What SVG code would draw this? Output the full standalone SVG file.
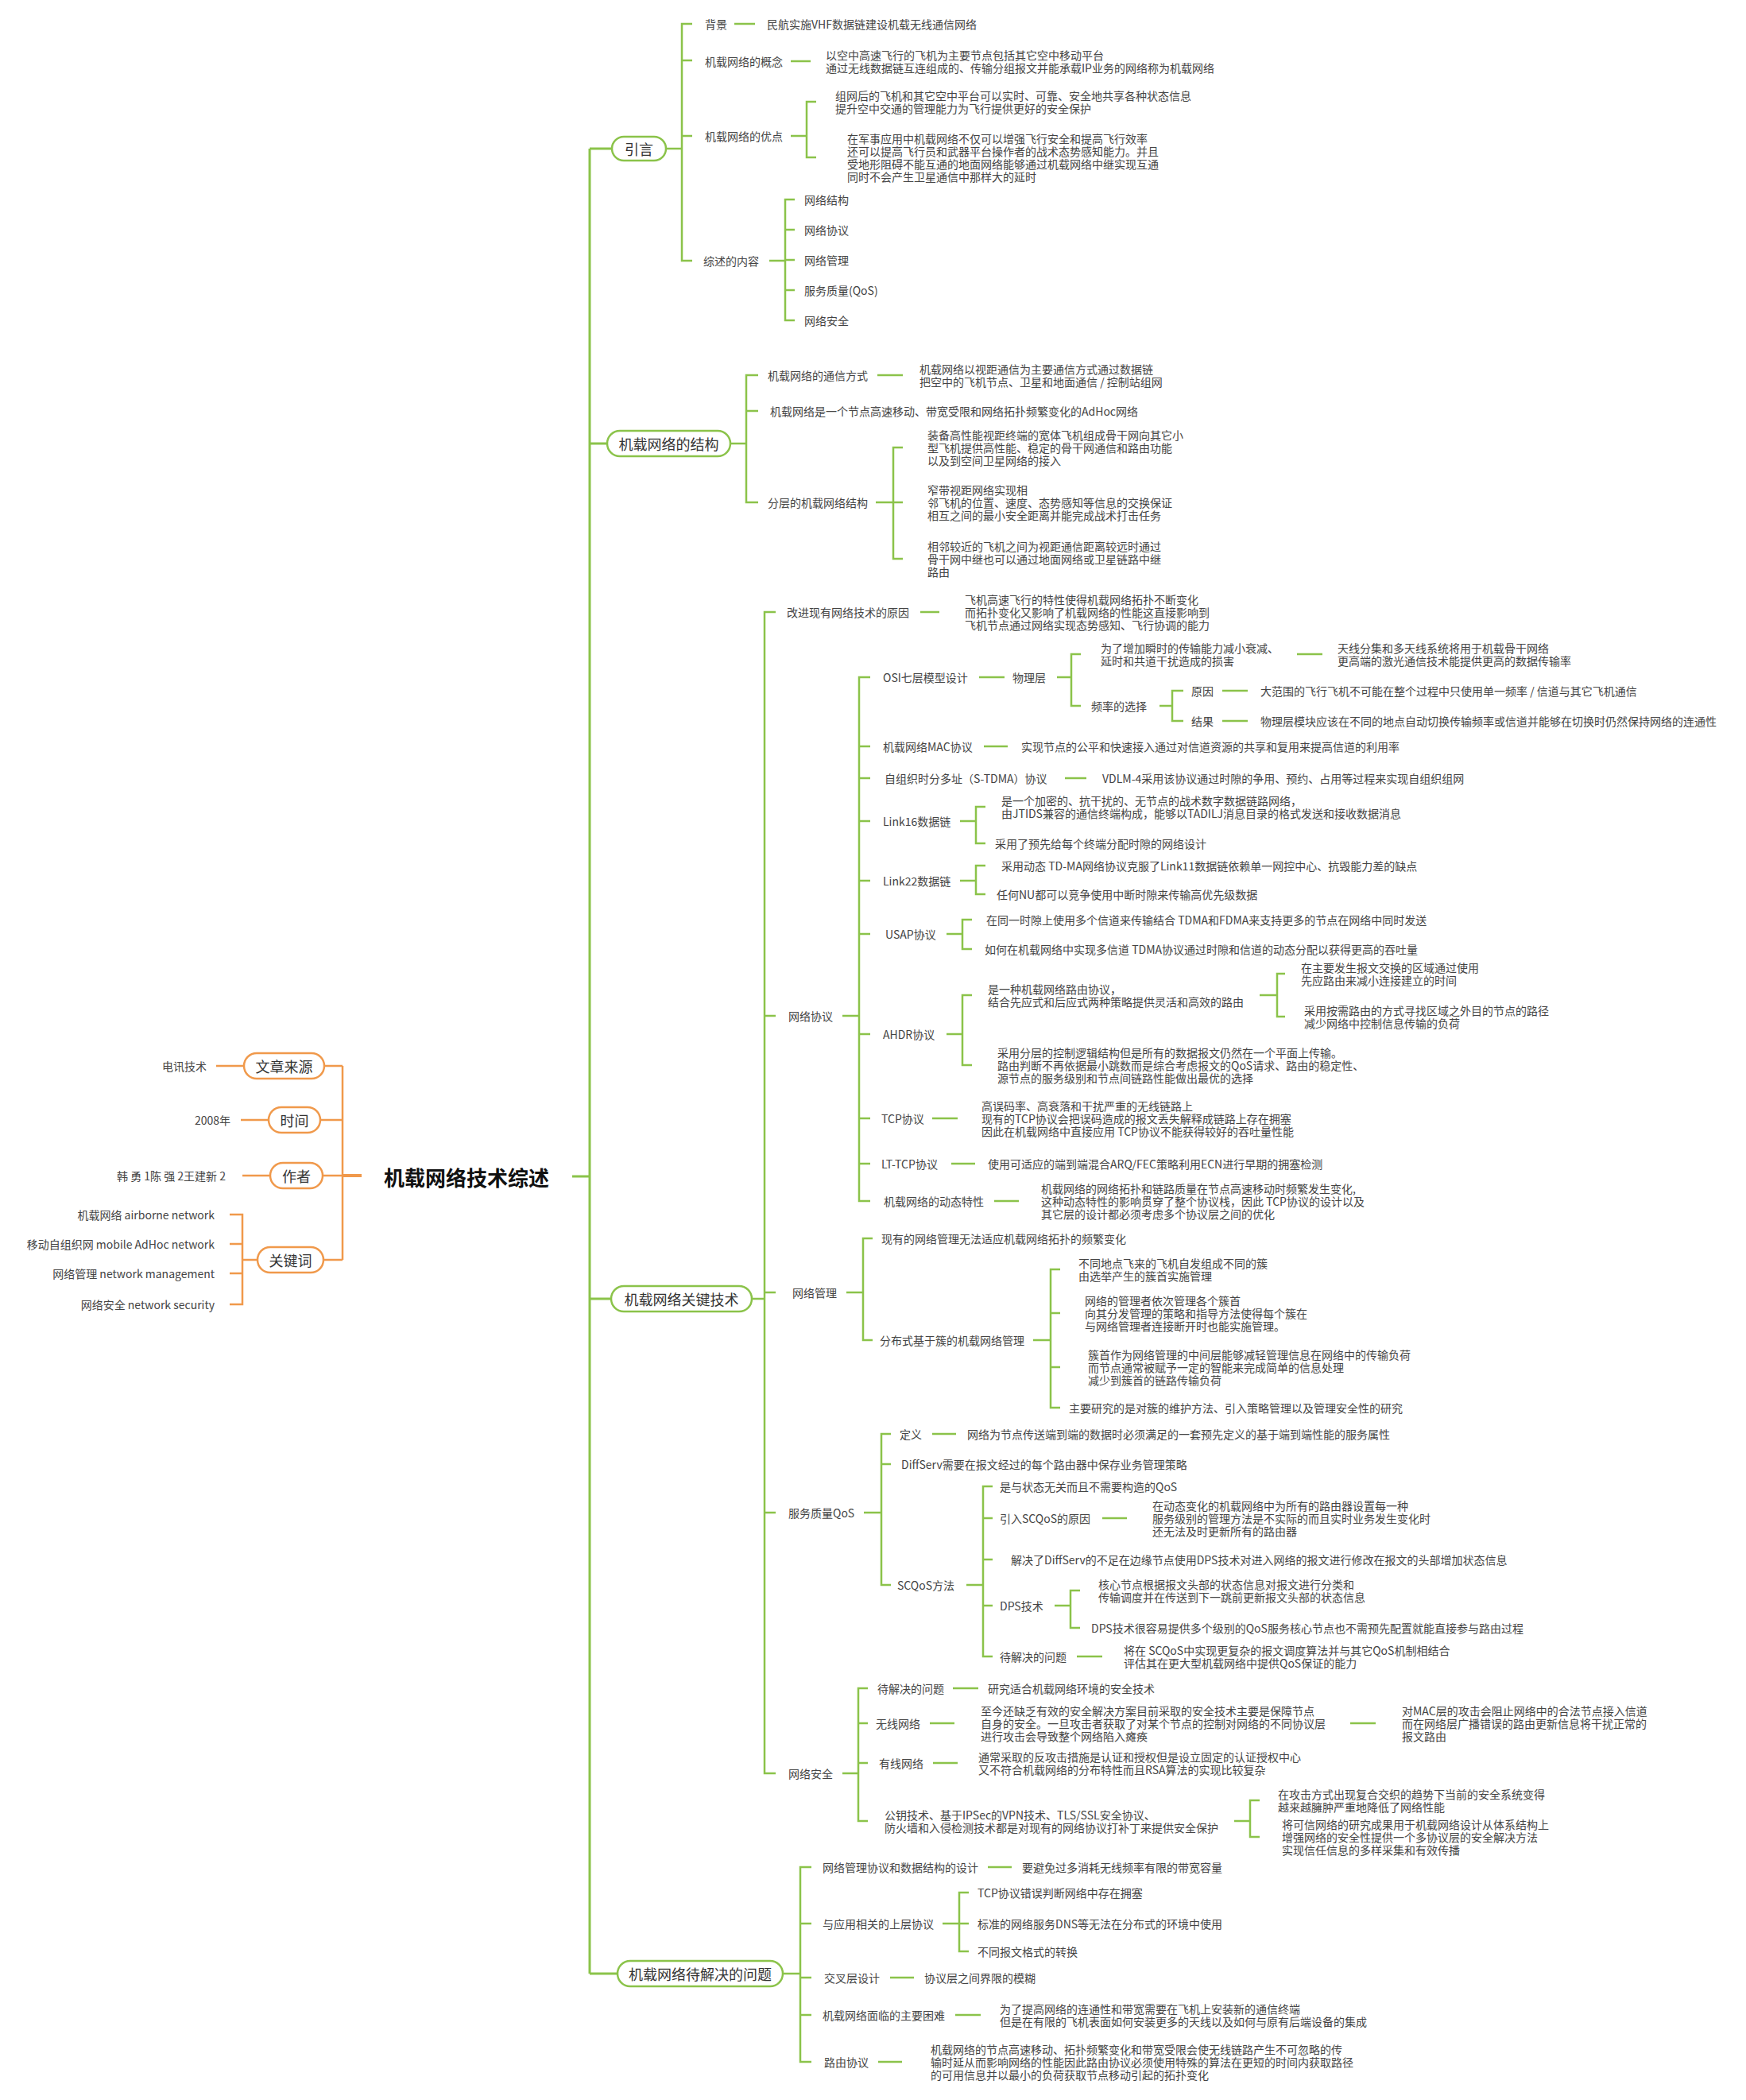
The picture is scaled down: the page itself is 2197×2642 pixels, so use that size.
<svg xmlns="http://www.w3.org/2000/svg" width="2197" height="2642" viewBox="0 0 2197 2642">
<style>
text{font-family:"Noto Sans CJK SC","Noto Sans",sans-serif;fill:#444;font-size:14px;dominant-baseline:central}
.m{font-size:18px;fill:#333;text-anchor:middle}
.r{font-size:26px;font-weight:700;fill:#111}
.l{text-anchor:end}
.g{stroke:#8BC34A;stroke-width:2.5;fill:none}
.gk{stroke:#8BC34A;stroke-width:3;fill:none}
.o{stroke:#F0994B;stroke-width:2.5;fill:none}
.ok{stroke:#F0994B;stroke-width:4;fill:none}
.gb{fill:#fff;stroke:#8BC34A;stroke-width:2.5}
.ob{fill:#fff;stroke:#F0994B;stroke-width:2.5}
</style>
<rect width="2197" height="2642" fill="#fff"/>
<g id="connectors">
<path class="gk" d="M720 1480 H742 M742 187 V2483 M742 187 H770 M742 558 H764 M742 1634 H769 M742 2483 H777"/>
<path class="g" d="M838 187 H858 M871 30 H858 V328 H871 M858 76 H871 M858 171 H871 M924 30 H950 M995 77 H1020 M995 171 H1015 M1027 128 H1015 V198 H1027 M968 328 H988 M1000 251 H988 V403 H1000 M988 289 H1000 M988 327 H1000 M988 365 H1000"/>
<path class="g" d="M919 558 H939 M954 472 H939 V632 H954 M939 517 H954 M1104 472 H1136 M1102 632 H1124 M1136 563 H1124 V703 H1136 M1124 632 H1136"/>
<path class="g" d="M946 1634 H962 M976 770 H962 V2231 H976 M962 1278 H976 M962 1626 H976 M962 1903 H976 M1158 770 H1182"/>
<path class="g" d="M1060 1278 H1081 M1095 852 H1081 V1511 H1095 M1081 939 H1095 M1081 979 H1095 M1081 1033 H1095 M1081 1108 H1095 M1081 1175 H1095 M1081 1301 H1095 M1081 1407 H1095 M1081 1464 H1095"/>
<path class="g" d="M1232 852 H1264 M1330 852 H1348 M1360 823 H1348 V888 H1360 M1632 823 H1664 M1459 888 H1475 M1489 869 H1475 V907 H1489 M1538 869 H1570 M1538 907 H1570"/>
<path class="g" d="M1238 939 H1268 M1340 979 H1367 M1208 1033 H1228 M1240 1015 H1228 V1061 H1240 M1208 1108 H1228 M1240 1089 H1228 V1125 H1240 M1191 1175 H1211 M1223 1157 H1211 V1194 H1223"/>
<path class="g" d="M1191 1301 H1211 M1223 1252 H1211 V1340 H1223 M1585 1252 H1607 M1617 1225 H1607 V1279 H1617 M1173 1407 H1205 M1197 1464 H1227 M1251 1511 H1282"/>
<path class="g" d="M1065 1626 H1086 M1098 1558 H1086 V1686 H1098 M1300 1686 H1322 M1334 1597 H1322 V1771 H1334 M1322 1652 H1334 M1322 1720 H1334"/>
<path class="g" d="M1087 1903 H1109 M1121 1804 H1109 V1994 H1121 M1109 1842 H1121 M1173 1804 H1203 M1216 1994 H1237 M1249 1870 H1237 V2084 H1249 M1237 1910 H1249 M1237 1962 H1249 M1237 2020 H1249 M1387 1910 H1418 M1327 2020 H1347 M1359 2001 H1347 V2048 H1359 M1355 2084 H1387"/>
<path class="g" d="M1060 2231 H1080 M1092 2124 H1080 V2291 H1092 M1080 2168 H1092 M1080 2218 H1092 M1199 2124 H1231 M1170 2168 H1201 M1699 2168 H1731 M1174 2218 H1205 M1553 2291 H1573 M1585 2265 H1573 V2311 H1585"/>
<path class="g" d="M985 2483 H1007 M1021 2349 H1007 V2594 H1021 M1007 2420 H1021 M1007 2488 H1021 M1007 2535 H1021 M1243 2349 H1273 M1186 2420 H1207 M1219 2381 H1207 V2455 H1219 M1207 2420 H1219 M1120 2488 H1150 M1202 2535 H1234 M1105 2594 H1135"/>
<path class="ok" d="M431 1479 H455"/>
<path class="o" d="M431 1341 V1585 M408 1341 H431 M403 1409 H431 M406 1479 H431 M407 1585 H431 M272 1341 H307 M303 1409 H338 M305 1479 H340 M305 1585 H324 M289 1528 H305 V1641 H289 M289 1565 H305 M289 1602 H305"/>
</g>
<g id="root"><text class="r" x="483" y="1480">机载网络技术综述</text></g>
<g id="src"><rect class="ob" x="307" y="1325" width="101" height="32" rx="16"/><text class="m" x="357.5" y="1341">文章来源</text></g>
<g id="src-v"><text class="l" x="260" y="1341">电讯技术</text></g>
<g id="time"><rect class="ob" x="338" y="1393" width="65" height="32" rx="16"/><text class="m" x="370.5" y="1409">时间</text></g>
<g id="time-v"><text class="l" x="290" y="1409">2008年</text></g>
<g id="author"><rect class="ob" x="340" y="1463" width="66" height="32" rx="16"/><text class="m" x="373" y="1479">作者</text></g>
<g id="author-v"><text class="l" x="284" y="1479">韩 勇 1陈 强 2王建新 2</text></g>
<g id="kw"><rect class="ob" x="324" y="1569" width="83" height="32" rx="16"/><text class="m" x="365.5" y="1585">关键词</text></g>
<g id="kw1"><text class="l" x="270" y="1528">机载网络 airborne network</text></g>
<g id="kw2"><text class="l" x="270" y="1565">移动自组织网 mobile AdHoc network</text></g>
<g id="kw3"><text class="l" x="270" y="1602">网络管理 network management</text></g>
<g id="kw4"><text class="l" x="270" y="1641">网络安全 network security</text></g>

<g id="n1"><rect class="gb" x="770" y="172" width="68" height="30" rx="15"/><text class="m" x="804" y="187">引言</text></g>
<g id="n1a"><text x="887" y="30">背景</text></g>
<g id="n1a1"><text x="965" y="30">民航实施VHF数据链建设机载无线通信网络</text></g>
<g id="n1b"><text x="887" y="77">机载网络的概念</text></g>
<g id="n1b1"><text><tspan x="1039" y="69">以空中高速飞行的飞机为主要节点包括其它空中移动平台</tspan><tspan x="1039" y="85">通过无线数据链互连组成的、传输分组报文并能承载IP业务的网络称为机载网络</tspan></text></g>
<g id="n1c"><text x="887" y="171">机载网络的优点</text></g>
<g id="n1c1"><text><tspan x="1051" y="120">组网后的飞机和其它空中平台可以实时、可靠、安全地共享各种状态信息</tspan><tspan x="1051" y="136">提升空中交通的管理能力为飞行提供更好的安全保护</tspan></text></g>
<g id="n1c2"><text><tspan x="1066" y="174">在军事应用中机载网络不仅可以增强飞行安全和提高飞行效率</tspan><tspan x="1066" y="190">还可以提高飞行员和武器平台操作者的战术态势感知能力。并且</tspan><tspan x="1066" y="206">受地形阻碍不能互通的地面网络能够通过机载网络中继实现互通</tspan><tspan x="1066" y="222">同时不会产生卫星通信中那样大的延时</tspan></text></g>
<g id="n1d"><text x="885" y="328">综述的内容</text></g>
<g id="n1d1"><text x="1012" y="251">网络结构</text></g>
<g id="n1d2"><text x="1012" y="289">网络协议</text></g>
<g id="n1d3"><text x="1012" y="327">网络管理</text></g>
<g id="n1d4"><text x="1012" y="365">服务质量(QoS)</text></g>
<g id="n1d5"><text x="1012" y="403">网络安全</text></g>

<g id="n2"><rect class="gb" x="764" y="542" width="155" height="32" rx="16"/><text class="m" x="841.5" y="558">机载网络的结构</text></g>
<g id="n2a"><text x="966" y="472">机载网络的通信方式</text></g>
<g id="n2a1"><text><tspan x="1157" y="464">机载网络以视距通信为主要通信方式通过数据链</tspan><tspan x="1157" y="480">把空中的飞机节点、卫星和地面通信 / 控制站组网</tspan></text></g>
<g id="n2b"><text x="969" y="517">机载网络是一个节点高速移动、带宽受限和网络拓扑频繁变化的AdHoc网络</text></g>
<g id="n2c"><text x="966" y="632">分层的机载网络结构</text></g>
<g id="n2c1"><text><tspan x="1167" y="547">装备高性能视距终端的宽体飞机组成骨干网向其它小</tspan><tspan x="1167" y="563">型飞机提供高性能、稳定的骨干网通信和路由功能</tspan><tspan x="1167" y="579">以及到空间卫星网络的接入</tspan></text></g>
<g id="n2c2"><text><tspan x="1167" y="616">窄带视距网络实现相</tspan><tspan x="1167" y="632">邻飞机的位置、速度、态势感知等信息的交换保证</tspan><tspan x="1167" y="648">相互之间的最小安全距离并能完成战术打击任务</tspan></text></g>
<g id="n2c3"><text><tspan x="1167" y="687">相邻较近的飞机之间为视距通信距离较远时通过</tspan><tspan x="1167" y="703">骨干网中继也可以通过地面网络或卫星链路中继</tspan><tspan x="1167" y="719">路由</tspan></text></g>

<g id="n3"><rect class="gb" x="769" y="1618" width="177" height="32" rx="16"/><text class="m" x="857.5" y="1634">机载网络关键技术</text></g>
<g id="n3a"><text x="990" y="770">改进现有网络技术的原因</text></g>
<g id="n3a1"><text><tspan x="1214" y="754">飞机高速飞行的特性使得机载网络拓扑不断变化</tspan><tspan x="1214" y="770">而拓扑变化又影响了机载网络的性能这直接影响到</tspan><tspan x="1214" y="786">飞机节点通过网络实现态势感知、飞行协调的能力</tspan></text></g>
<g id="n3b"><text x="992" y="1278">网络协议</text></g>
<g id="n3b1"><text x="1111" y="852">OSI七层模型设计</text></g>
<g id="n3b1a"><text x="1274" y="852">物理层</text></g>
<g id="n3b1a1"><text><tspan x="1385" y="815">为了增加瞬时的传输能力减小衰减、</tspan><tspan x="1385" y="831">延时和共道干扰造成的损害</tspan></text></g>
<g id="n3b1a2"><text><tspan x="1683" y="815">天线分集和多天线系统将用于机载骨干网络</tspan><tspan x="1683" y="831">更高端的激光通信技术能提供更高的数据传输率</tspan></text></g>
<g id="n3b1b"><text x="1373" y="888">频率的选择</text></g>
<g id="n3b1b1"><text x="1499" y="869">原因</text></g>
<g id="n3b1b1a"><text x="1586" y="869">大范围的飞行飞机不可能在整个过程中只使用单一频率 / 信道与其它飞机通信</text></g>
<g id="n3b1b2"><text x="1499" y="907">结果</text></g>
<g id="n3b1b2a"><text x="1586" y="907">物理层模块应该在不同的地点自动切换传输频率或信道并能够在切换时仍然保持网络的连通性</text></g>
<g id="n3b2"><text x="1111" y="939">机载网络MAC协议</text></g>
<g id="n3b2a"><text x="1285" y="939">实现节点的公平和快速接入通过对信道资源的共享和复用来提高信道的利用率</text></g>
<g id="n3b3"><text x="1113" y="979">自组织时分多址（S-TDMA）协议</text></g>
<g id="n3b3a"><text x="1387" y="979">VDLM-4采用该协议通过时隙的争用、预约、占用等过程来实现自组织组网</text></g>
<g id="n3b4"><text x="1111" y="1033">Link16数据链</text></g>
<g id="n3b4a"><text><tspan x="1260" y="1007">是一个加密的、抗干扰的、无节点的战术数字数据链路网络，</tspan><tspan x="1260" y="1023">由JTIDS兼容的通信终端构成，能够以TADILJ消息目录的格式发送和接收数据消息</tspan></text></g>
<g id="n3b4b"><text x="1252" y="1061">采用了预先给每个终端分配时隙的网络设计</text></g>
<g id="n3b5"><text x="1111" y="1108">Link22数据链</text></g>
<g id="n3b5a"><text x="1260" y="1089">采用动态 TD-MA网络协议克服了Link11数据链依赖单一网控中心、抗毁能力差的缺点</text></g>
<g id="n3b5b"><text x="1254" y="1125">任何NU都可以竞争使用中断时隙来传输高优先级数据</text></g>
<g id="n3b6"><text x="1114" y="1175">USAP协议</text></g>
<g id="n3b6a"><text x="1241" y="1157">在同一时隙上使用多个信道来传输结合 TDMA和FDMA来支持更多的节点在网络中同时发送</text></g>
<g id="n3b6b"><text x="1239" y="1194">如何在机载网络中实现多信道 TDMA协议通过时隙和信道的动态分配以获得更高的吞吐量</text></g>
<g id="n3b7"><text x="1111" y="1301">AHDR协议</text></g>
<g id="n3b7a"><text><tspan x="1243" y="1244">是一种机载网络路由协议，</tspan><tspan x="1243" y="1260">结合先应式和后应式两种策略提供灵活和高效的路由</tspan></text></g>
<g id="n3b7a1"><text><tspan x="1637" y="1217">在主要发生报文交换的区域通过使用</tspan><tspan x="1637" y="1233">先应路由来减小连接建立的时间</tspan></text></g>
<g id="n3b7a2"><text><tspan x="1641" y="1271">采用按需路由的方式寻找区域之外目的节点的路径</tspan><tspan x="1641" y="1287">减少网络中控制信息传输的负荷</tspan></text></g>
<g id="n3b7b"><text><tspan x="1255" y="1324">采用分层的控制逻辑结构但是所有的数据报文仍然在一个平面上传输。</tspan><tspan x="1255" y="1340">路由判断不再依据最小跳数而是综合考虑报文的QoS请求、路由的稳定性、</tspan><tspan x="1255" y="1356">源节点的服务级别和节点间链路性能做出最优的选择</tspan></text></g>
<g id="n3b8"><text x="1109" y="1407">TCP协议</text></g>
<g id="n3b8a"><text><tspan x="1235" y="1391">高误码率、高衰落和干扰严重的无线链路上</tspan><tspan x="1235" y="1407">现有的TCP协议会把误码造成的报文丢失解释成链路上存在拥塞</tspan><tspan x="1235" y="1423">因此在机载网络中直接应用 TCP协议不能获得较好的吞吐量性能</tspan></text></g>
<g id="n3b9"><text x="1109" y="1464">LT-TCP协议</text></g>
<g id="n3b9a"><text x="1243" y="1464">使用可适应的端到端混合ARQ/FEC策略利用ECN进行早期的拥塞检测</text></g>
<g id="n3b10"><text x="1112" y="1511">机载网络的动态特性</text></g>
<g id="n3b10a"><text><tspan x="1310" y="1495">机载网络的网络拓扑和链路质量在节点高速移动时频繁发生变化,</tspan><tspan x="1310" y="1511">这种动态特性的影响贯穿了整个协议栈，因此 TCP协议的设计以及</tspan><tspan x="1310" y="1527">其它层的设计都必须考虑多个协议层之间的优化</tspan></text></g>
<g id="n3c"><text x="997" y="1626">网络管理</text></g>
<g id="n3c1"><text x="1109" y="1558">现有的网络管理无法适应机载网络拓扑的频繁变化</text></g>
<g id="n3c2"><text x="1107" y="1686">分布式基于簇的机载网络管理</text></g>
<g id="n3c2a"><text><tspan x="1357" y="1589">不同地点飞来的飞机自发组成不同的簇</tspan><tspan x="1357" y="1605">由选举产生的簇首实施管理</tspan></text></g>
<g id="n3c2b"><text><tspan x="1365" y="1636">网络的管理者依次管理各个簇首</tspan><tspan x="1365" y="1652">向其分发管理的策略和指导方法使得每个簇在</tspan><tspan x="1365" y="1668">与网络管理者连接断开时也能实施管理。</tspan></text></g>
<g id="n3c2c"><text><tspan x="1369" y="1704">簇首作为网络管理的中间层能够减轻管理信息在网络中的传输负荷</tspan><tspan x="1369" y="1720">而节点通常被赋予一定的智能来完成简单的信息处理</tspan><tspan x="1369" y="1736">减少到簇首的链路传输负荷</tspan></text></g>
<g id="n3c2d"><text x="1345" y="1771">主要研究的是对簇的维护方法、引入策略管理以及管理安全性的研究</text></g>
<g id="n3d"><text x="992" y="1903">服务质量QoS</text></g>
<g id="n3d1"><text x="1132" y="1804">定义</text></g>
<g id="n3d1a"><text x="1217" y="1804">网络为节点传送端到端的数据时必须满足的一套预先定义的基于端到端性能的服务属性</text></g>
<g id="n3d2"><text x="1134" y="1842">DiffServ需要在报文经过的每个路由器中保存业务管理策略</text></g>
<g id="n3d3"><text x="1129" y="1994">SCQoS方法</text></g>
<g id="n3d3a"><text x="1258" y="1870">是与状态无关而且不需要构造的QoS</text></g>
<g id="n3d3b"><text x="1258" y="1910">引入SCQoS的原因</text></g>
<g id="n3d3b1"><text><tspan x="1450" y="1894">在动态变化的机载网络中为所有的路由器设置每一种</tspan><tspan x="1450" y="1910">服务级别的管理方法是不实际的而且实时业务发生变化时</tspan><tspan x="1450" y="1926">还无法及时更新所有的路由器</tspan></text></g>
<g id="n3d3c"><text x="1272" y="1962">解决了DiffServ的不足在边缘节点使用DPS技术对进入网络的报文进行修改在报文的头部增加状态信息</text></g>
<g id="n3d3d"><text x="1258" y="2020">DPS技术</text></g>
<g id="n3d3d1"><text><tspan x="1382" y="1993">核心节点根据报文头部的状态信息对报文进行分类和</tspan><tspan x="1382" y="2009">传输调度并在传送到下一跳前更新报文头部的状态信息</tspan></text></g>
<g id="n3d3d2"><text x="1373" y="2048">DPS技术很容易提供多个级别的QoS服务核心节点也不需预先配置就能直接参与路由过程</text></g>
<g id="n3d3e"><text x="1258" y="2084">待解决的问题</text></g>
<g id="n3d3e1"><text><tspan x="1414" y="2076">将在 SCQoS中实现更复杂的报文调度算法并与其它QoS机制相结合</tspan><tspan x="1414" y="2092">评估其在更大型机载网络中提供QoS保证的能力</tspan></text></g>
<g id="n3e"><text x="992" y="2231">网络安全</text></g>
<g id="n3e1"><text x="1104" y="2124">待解决的问题</text></g>
<g id="n3e1a"><text x="1243" y="2124">研究适合机载网络环境的安全技术</text></g>
<g id="n3e2"><text x="1102" y="2168">无线网络</text></g>
<g id="n3e2a"><text><tspan x="1234" y="2152">至今还缺乏有效的安全解决方案目前采取的安全技术主要是保障节点</tspan><tspan x="1234" y="2168">自身的安全。一旦攻击者获取了对某个节点的控制对网络的不同协议层</tspan><tspan x="1234" y="2184">进行攻击会导致整个网络陷入瘫痪</tspan></text></g>
<g id="n3e2b"><text><tspan x="1764" y="2152">对MAC层的攻击会阻止网络中的合法节点接入信道</tspan><tspan x="1764" y="2168">而在网络层广播错误的路由更新信息将干扰正常的</tspan><tspan x="1764" y="2184">报文路由</tspan></text></g>
<g id="n3e3"><text x="1106" y="2218">有线网络</text></g>
<g id="n3e3a"><text><tspan x="1231" y="2210">通常采取的反攻击措施是认证和授权但是设立固定的认证授权中心</tspan><tspan x="1231" y="2226">又不符合机载网络的分布特性而且RSA算法的实现比较复杂</tspan></text></g>
<g id="n3e4"><text><tspan x="1113" y="2283">公钥技术、基于IPSec的VPN技术、TLS/SSL安全协议、</tspan><tspan x="1113" y="2299">防火墙和入侵检测技术都是对现有的网络协议打补丁来提供安全保护</tspan></text></g>
<g id="n3e4a"><text><tspan x="1608" y="2257">在攻击方式出现复合交织的趋势下当前的安全系统变得</tspan><tspan x="1608" y="2273">越来越臃肿严重地降低了网络性能</tspan></text></g>
<g id="n3e4b"><text><tspan x="1613" y="2295">将可信网络的研究成果用于机载网络设计从体系结构上</tspan><tspan x="1613" y="2311">增强网络的安全性提供一个多协议层的安全解决方法</tspan><tspan x="1613" y="2327">实现信任信息的多样采集和有效传播</tspan></text></g>

<g id="n4"><rect class="gb" x="777" y="2467" width="208" height="32" rx="16"/><text class="m" x="881" y="2483">机载网络待解决的问题</text></g>
<g id="n4a"><text x="1035" y="2349">网络管理协议和数据结构的设计</text></g>
<g id="n4a1"><text x="1286" y="2349">要避免过多消耗无线频率有限的带宽容量</text></g>
<g id="n4b"><text x="1035" y="2420">与应用相关的上层协议</text></g>
<g id="n4b1"><text x="1230" y="2381">TCP协议错误判断网络中存在拥塞</text></g>
<g id="n4b2"><text x="1230" y="2420">标准的网络服务DNS等无法在分布式的环境中使用</text></g>
<g id="n4b3"><text x="1230" y="2455">不同报文格式的转换</text></g>
<g id="n4c"><text x="1037" y="2488">交叉层设计</text></g>
<g id="n4c1"><text x="1163" y="2488">协议层之间界限的模糊</text></g>
<g id="n4d"><text x="1035" y="2535">机载网络面临的主要困难</text></g>
<g id="n4d1"><text><tspan x="1258" y="2527">为了提高网络的连通性和带宽需要在飞机上安装新的通信终端</tspan><tspan x="1258" y="2543">但是在有限的飞机表面如何安装更多的天线以及如何与原有后端设备的集成</tspan></text></g>
<g id="n4e"><text x="1037" y="2594">路由协议</text></g>
<g id="n4e1"><text><tspan x="1171" y="2578">机载网络的节点高速移动、拓扑频繁变化和带宽受限会使无线链路产生不可忽略的传</tspan><tspan x="1171" y="2594">输时延从而影响网络的性能因此路由协议必须使用特殊的算法在更短的时间内获取路径</tspan><tspan x="1171" y="2610">的可用信息并以最小的负荷获取节点移动引起的拓扑变化</tspan></text></g>
</svg>
